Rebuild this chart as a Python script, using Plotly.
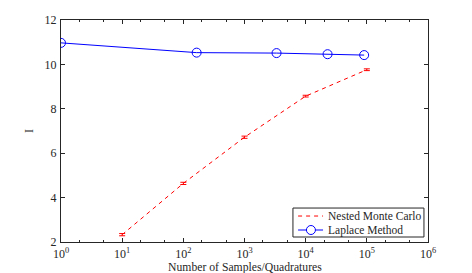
import plotly.graph_objects as go

nmc_x = [10, 100, 1000, 10000, 100000]
nmc_y = [2.33, 4.64, 6.72, 8.57, 9.76]
nmc_err = [0.05, 0.05, 0.05, 0.04, 0.04]

lap_x = [1, 165, 3340, 22800, 90400]
lap_y = [10.97, 10.53, 10.51, 10.46, 10.42]

tick_vals = [1, 10, 100, 1000, 10000, 100000, 1000000]
tick_text = ["10<sup>0</sup>", "10<sup>1</sup>", "10<sup>2</sup>", "10<sup>3</sup>",
             "10<sup>4</sup>", "10<sup>5</sup>", "10<sup>6</sup>"]
y_ticks = [2, 4, 6, 8, 10, 12]
series_names = ["Nested Monte Carlo", "Laplace Method"]
series_colors = ["#ff0000", "#0000ff"]
x_title = "Number of Samples/Quadratures"

FONT = "Liberation Serif"
INK = "#262626"

fig = go.Figure()
fig.add_trace(go.Scatter(
    x=nmc_x, y=nmc_y, mode="lines", name=series_names[0],
    line=dict(color=series_colors[0], width=1, dash="4px,4px"),
    error_y=dict(type="data", array=nmc_err, color=series_colors[0], thickness=1, width=3),
))
fig.add_trace(go.Scatter(
    x=lap_x, y=lap_y, mode="lines+markers", name=series_names[1],
    line=dict(color=series_colors[1], width=1),
    marker=dict(symbol="circle-open", size=9, color=series_colors[1], line=dict(width=1)),
))

axis_common = dict(
    showline=True, linecolor=INK, linewidth=1, mirror="allticks",
    ticks="inside", ticklen=4, tickcolor=INK, showgrid=False, zeroline=False,
    automargin=False,
    tickfont=dict(family=FONT, size=12, color=INK),
)

# compact legend box (MATLAB style), drawn in paper coordinates
lx0, lx1, ly0, ly1 = 0.632, 0.989, 0.0225, 0.153
sx0, sx1, smid, tx = 0.646, 0.714, 0.681, 0.722
rows = [0.117, 0.054]
shapes = [dict(type="rect", xref="paper", yref="paper", x0=lx0, x1=lx1, y0=ly0, y1=ly1,
               line=dict(color=INK, width=1), fillcolor="white", layer="above")]
shapes.append(dict(type="line", xref="paper", yref="paper", x0=sx0, x1=sx1, y0=rows[0], y1=rows[0],
                   line=dict(color=series_colors[0], width=1, dash="4px,4px"), layer="above"))
shapes.append(dict(type="line", xref="paper", yref="paper", x0=sx0, x1=sx1, y0=rows[1], y1=rows[1],
                   line=dict(color=series_colors[1], width=1), layer="above"))
shapes.append(dict(type="circle", xref="paper", yref="paper", xsizemode="pixel", ysizemode="pixel",
                   xanchor=smid, yanchor=rows[1], x0=-4.5, x1=4.5, y0=-4.5, y1=4.5,
                   line=dict(color=series_colors[1], width=1), fillcolor="white", layer="above"))
annotations = [dict(xref="paper", yref="paper", x=tx, y=r, text=n, showarrow=False,
                    xanchor="left", yanchor="middle",
                    font=dict(family=FONT, size=11.5, color=INK))
               for n, r in zip(series_names, rows)]
annotations.append(dict(xref="paper", yref="paper", x=0.5, y=-0.114, text=x_title,
                        showarrow=False, xanchor="center", yanchor="middle",
                        font=dict(family=FONT, size=11.7, color=INK)))

fig.update_layout(
    width=464, height=265,
    margin=dict(l=53, r=44, t=12, b=31, autoexpand=False),
    paper_bgcolor="white", plot_bgcolor="white",
    font=dict(family=FONT, size=12, color=INK),
    xaxis=dict(type="log", range=[0, 6], tickvals=tick_vals, ticktext=tick_text,
               ticklabelstandoff=1,
               minor=dict(ticks="inside", ticklen=2, tickcolor=INK, showgrid=False),
               **axis_common),
    yaxis=dict(range=[2, 12], tickvals=y_ticks, ticklabelstandoff=1,
               title=dict(text="I", standoff=8, font=dict(family=FONT, size=12)),
               **axis_common),
    shapes=shapes, annotations=annotations,
    showlegend=False,
)

fig.write_html("out.html")
